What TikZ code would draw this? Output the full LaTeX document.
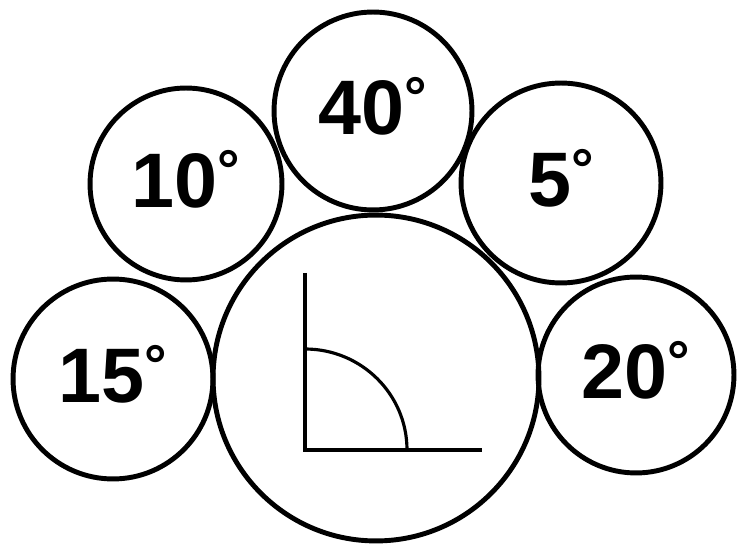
\documentclass[tikz,border=0pt]{standalone}
\usepackage{fontspec}
\setmainfont{Liberation Sans}
\usepackage{tikz}
\tikzset{disc/.style={draw,circle,line width=2.8pt,inner sep=0pt,minimum size=#1*0.04cm,
		font=\bfseries\fontsize{44}{44}\selectfont}}
\def\dg{\raisebox{10pt}{\fontsize{32}{32}\selectfont\textdegree}}
\newcommand{\lab}[1]{\raisebox{0.2cm}{#1\dg}}

\begin{document}
\begin{tikzpicture}[x=0.02cm,y=-0.02cm]
				\useasboundingbox (0,0) rectangle (739,546);
				\node[disc=163] (big) at (376,378){};
				\node[disc=100] (a15) at (113,379){\lab{15}};
				\node[disc=96] (a10) at (186,184){\lab{10}};
				\node[disc=99] (a40) at (373,111){\lab{40}};
				\node[disc=100] (a5) at (561,183){\lab{5}};
				\node[disc=98] (a20) at (636,375){\lab{20}};
				\draw[line width=1.8pt] (305,273) -- (305,450) -- (482,450);
				\draw[line width=1.8pt] (305,349) arc (-90:0:102 and 101);
			\end{tikzpicture}
\end{document}
